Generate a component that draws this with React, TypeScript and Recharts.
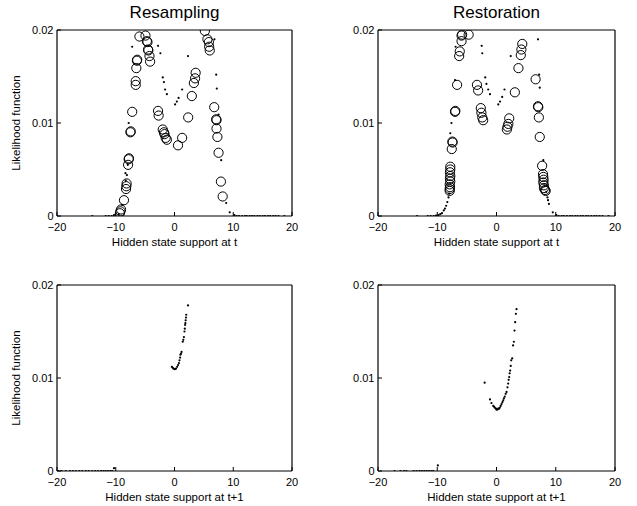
import { ScatterChart, Scatter, XAxis, YAxis } from "recharts";

// values: [hidden state, likelihood]
const xTicks = [-20, -10, 0, 10, 20];
const yTicks = [0, 0.01, 0.02];
const titles = ["Resampling", "Restoration"];
const xLabels = ["Hidden state support at t", "Hidden state support at t+1"];
const yLabel = "Likelihood function";

const resampleCircles = [
  [-5.97, 0.0193], [-4.94, 0.0194], [-4.7, 0.0188], [-4.6, 0.0187], [-4.5, 0.0179], [-4.45, 0.0178],
  [-4.26, 0.0172], [-4.15, 0.0166], [-6.4, 0.0167], [-6.35, 0.0168], [-6.5, 0.0159], [-6.6, 0.0145],
  [-6.6, 0.0141], [-7.2, 0.0112], [-7.5, 0.009], [-7.45, 0.0091], [-7.8, 0.0061], [-7.75, 0.0062],
  [-7.9, 0.0055], [-8.15, 0.0035], [-8.2, 0.0032], [-8.25, 0.0029], [-8.6, 0.0017], [-9.1, 0.0007],
  [-9.2, 0.0005], [-9.3, 0.0003], [-2.8, 0.0113], [-2.7, 0.0108], [-2.0, 0.0093], [-1.8, 0.009],
  [-1.7, 0.0088], [-1.5, 0.0084], [-1.3, 0.0082], [0.6, 0.0076], [1.3, 0.0084], [2.33, 0.0106],
  [2.95, 0.0129], [3.3, 0.0143], [3.5, 0.0148], [3.6, 0.0154], [5.17, 0.0199], [5.6, 0.019],
  [5.85, 0.0187], [5.9, 0.0182], [6.0, 0.0178], [6.76, 0.0117], [7.1, 0.0104], [7.15, 0.0103],
  [7.15, 0.0094], [7.3, 0.0085], [7.5, 0.0068], [7.9, 0.0037], [8.2, 0.0021],
];

const resampleDots = [
  [-7.2, 0.0182], [-7.8, 0.01], [-7.95, 0.0055], [-8.1, 0.0044], [-8.35, 0.0046], [-8.3, 0.0038],
  [-8.9, 0.0012], [-9.5, 0.0002], [-2.8, 0.0183], [-2.4, 0.0175], [-2.0, 0.0149], [-1.8, 0.0144],
  [-1.6, 0.0136], [-1.3, 0.0131], [0.1, 0.012], [0.4, 0.0123], [0.7, 0.0127], [1.3, 0.0136],
  [2.3, 0.0172], [6.8, 0.019], [7.1, 0.0152], [7.2, 0.0137], [7.5, 0.0109], [7.95, 0.006],
  [8.8, 0.0014], [9.4, 0.0004],
  [-14.0, 0], [-11.7, 0], [-11.2, 0], [-10.7, 0], [-10.3, 0.0001],
  [10.2, 0.0001], [10.6, 0], [11.0, 0], [11.5, 0], [12.0, 0], [12.3, 0], [12.8, 0], [13.2, 0],
  [13.6, 0], [14.1, 0], [14.5, 0], [15.0, 0], [15.4, 0], [15.9, 0], [16.3, 0], [16.8, 0],
  [17.2, 0], [17.7, 0], [18.7, 0],
];

const restoreCircles = [
  [-5.9, 0.0194], [-5.8, 0.0195], [-4.7, 0.0195], [-5.9, 0.0188], [-6.2, 0.0177], [-6.3, 0.0172],
  [-6.65, 0.0141], [-7.0, 0.0112], [-6.95, 0.0113], [-7.4, 0.0079], [-7.45, 0.008], [-7.55, 0.0072],
  [-7.8, 0.0053], [-7.8, 0.005], [-7.85, 0.0047], [-7.8, 0.0043], [-7.85, 0.004], [-7.8, 0.0037],
  [-7.9, 0.0034], [-7.85, 0.0031], [-7.9, 0.0029], [-7.9, 0.0027], [-3.3, 0.0141], [-3.1, 0.0135],
  [-2.65, 0.0116], [-2.55, 0.0111], [-2.4, 0.0106], [-2.25, 0.0103], [2.15, 0.0105], [2.0, 0.0099],
  [1.85, 0.0096], [1.75, 0.0093], [3.1, 0.0133], [3.7, 0.0159], [4.1, 0.0173], [4.2, 0.0179],
  [4.35, 0.0185], [6.6, 0.0147], [7.0, 0.0118], [7.05, 0.0117], [7.15, 0.0106], [7.3, 0.0085],
  [7.7, 0.0054], [7.85, 0.0045], [7.9, 0.0042], [7.95, 0.0039], [7.9, 0.0036], [8.0, 0.0033],
  [8.0, 0.003], [8.2, 0.0028], [8.3, 0.0027],
];

const restoreDots = [
  [7.0, 0.019], [7.2, 0.0152], [7.3, 0.0138], [-2.5, 0.0183], [-2.4, 0.0175], [-1.9, 0.0149],
  [-1.7, 0.0142], [-1.4, 0.0136], [-1.1, 0.0131], [0.3, 0.012], [0.6, 0.0123], [0.96, 0.0128],
  [1.35, 0.0136], [2.4, 0.0172], [-6.9, 0.0182], [-7.0, 0.0146], [-7.6, 0.01], [-7.8, 0.0089],
  [-8.0, 0.0024], [-8.1, 0.002], [-8.3, 0.0015], [-8.5, 0.0011], [-8.7, 0.0008], [-8.9, 0.0006],
  [-9.2, 0.0003], [-9.5, 0.0002], [-9.8, 0.0001], [-10.2, 0.00005], [-10.6, 0], [-11.1, 0],
  [-11.6, 0], [-13.4, 0],
  [7.9, 0.006], [8.4, 0.0026], [8.6, 0.002], [8.7, 0.0017], [8.85, 0.0013], [9.5, 0.0004],
  [10.1, 0.0001], [10.5, 0], [11.0, 0], [11.4, 0], [11.9, 0], [12.4, 0], [12.8, 0], [13.3, 0],
  [13.7, 0], [14.2, 0], [14.6, 0], [15.1, 0], [15.5, 0], [16.0, 0], [16.5, 0], [16.9, 0],
  [17.4, 0], [17.9, 0], [18.9, 0],
];

const nextResampleDots = [
  [-0.45, 0.0112], [-0.3, 0.0111], [-0.17, 0.011], [0.05, 0.01095], [0.25, 0.011], [0.45, 0.0112],
  [0.6, 0.0114], [0.75, 0.0116], [0.85, 0.0119], [0.95, 0.0122], [1.0, 0.0125], [1.1, 0.0126],
  [1.2, 0.0128], [1.4, 0.0139], [1.5, 0.0141], [1.6, 0.0144], [1.7, 0.015], [1.75, 0.0153],
  [1.8, 0.0157], [1.85, 0.0159], [1.9, 0.0162], [1.95, 0.0165], [2.0, 0.0168], [2.3, 0.0178],
  [-19.8, 0], [-19.2, 0], [-18.5, 0], [-17.8, 0], [-17.3, 0], [-16.8, 0], [-16.2, 0], [-15.7, 0],
  [-15.1, 0], [-14.6, 0], [-14.0, 0], [-13.5, 0], [-13.0, 0], [-12.5, 0], [-12.1, 0], [-11.7, 0],
  [-11.3, 0], [-10.9, 0], [-10.6, 0], [-10.3, 0.0003],
];

const nextRestoreDots = [
  [-2.0, 0.0095], [-1.1, 0.0077], [-0.85, 0.0073], [-0.55, 0.007], [-0.4, 0.0069], [-0.28, 0.0068],
  [-0.1, 0.0067], [0.0, 0.0066], [0.15, 0.0066], [0.28, 0.0067], [0.42, 0.0067], [0.56, 0.0068],
  [0.7, 0.007], [0.85, 0.0072], [1.0, 0.0074], [1.13, 0.0076], [1.25, 0.0078], [1.4, 0.008],
  [1.55, 0.0083], [1.7, 0.0085], [1.85, 0.009], [1.97, 0.0094], [2.05, 0.0098], [2.14, 0.0101],
  [2.22, 0.0105], [2.3, 0.0108], [2.4, 0.0113], [2.48, 0.0119], [2.65, 0.0121], [2.8, 0.0135],
  [2.93, 0.0139], [3.04, 0.0151], [3.15, 0.016], [3.27, 0.0169], [3.38, 0.0174],
  [-17.2, 0], [-16.2, 0], [-15.6, 0], [-15.2, 0], [-14.0, 0], [-13.5, 0], [-13.0, 0], [-12.6, 0],
  [-12.2, 0], [-11.8, 0], [-11.4, 0], [-11.0, 0], [-10.7, 0], [-9.9, 0.0006],
];

const font = "'Liberation Sans', Arial, Helvetica, sans-serif";

const toPoints = (arr: number[][]) => arr.map(([x, y]) => ({ x, y }));

const fmtX = (v: number) => (v < 0 ? "\u2212" + Math.abs(v) : String(v));
const fmtY = (v: number) => (v === 0 ? "0" : v.toFixed(2));

const Ring = (p: any) => (
  <circle cx={p.cx} cy={p.cy} r={4.6} fill="none" stroke="#000" strokeWidth={1} />
);
const Dot = (p: any) => <circle cx={p.cx} cy={p.cy} r={1.1} fill="#000" />;

interface PanelProps {
  left: number;
  top: number;
  plotWidth: number;
  title?: string;
  xLabel: string;
  showYLabel: boolean;
  circles?: number[][];
  dots: number[][];
}

function Panel({ left, top, plotWidth, title, xLabel, showYLabel, circles, dots }: PanelProps) {
  const tickStyle = { fontSize: 11, fill: "#000", fontFamily: font };
  const axisLine = { stroke: "#000", strokeWidth: 1.2 };
  return (
    <div style={{ position: "absolute", left, top, width: 57 + plotWidth + 10, height: 251 }}>
      {title && (
        <div
          style={{
            position: "absolute",
            left: 57,
            width: plotWidth,
            top: 3,
            textAlign: "center",
            fontFamily: font,
            fontSize: 17,
            lineHeight: "20px",
          }}
        >
          {title}
        </div>
      )}
      <ScatterChart
        width={57 + plotWidth + 10}
        height={251}
        margin={{ top: 30, right: 10, bottom: 5, left: 0 }}
      >
        <XAxis
          type="number"
          dataKey="x"
          domain={[-20, 20]}
          ticks={xTicks}
          tickFormatter={fmtX}
          allowDataOverflow
          height={30}
          tickSize={-4}
          tickMargin={11}
          axisLine={axisLine}
          tickLine={{ stroke: "#000" }}
          tick={tickStyle}
          interval={0}
          label={{ value: xLabel, position: "insideBottom", offset: 0, style: { fontSize: 11.5, fill: "#000", fontFamily: font } }}
        />
        <XAxis
          xAxisId="top"
          orientation="top"
          mirror
          type="number"
          domain={[-20, 20]}
          ticks={xTicks}
          tickSize={4}
          tick={false}
          axisLine={axisLine}
          tickLine={{ stroke: "#000" }}
        />
        <YAxis
          type="number"
          dataKey="y"
          domain={[0, 0.02]}
          ticks={yTicks}
          tickFormatter={fmtY}
          allowDataOverflow
          width={57}
          tickSize={-4}
          tickMargin={7.5}
          axisLine={axisLine}
          tickLine={{ stroke: "#000" }}
          tick={tickStyle}
          interval={0}
          label={
            showYLabel
              ? {
                  value: yLabel,
                  angle: -90,
                  position: "insideLeft",
                  offset: 16,
                  style: { textAnchor: "middle", fontSize: 11.5, fill: "#000", fontFamily: font },
                }
              : undefined
          }
        />
        <YAxis
          yAxisId="right"
          orientation="right"
          mirror
          type="number"
          domain={[0, 0.02]}
          ticks={yTicks}
          tickSize={4}
          tick={false}
          axisLine={axisLine}
          tickLine={{ stroke: "#000" }}
        />
        <Scatter data={toPoints(dots)} shape={Dot} isAnimationActive={false} />
        {circles && <Scatter data={toPoints(circles)} shape={Ring} isAnimationActive={false} />}
      </ScatterChart>
    </div>
  );
}

export default function App() {
  return (
    <div style={{ position: "absolute", left: 0, top: 0, width: 637, height: 506, background: "#fff" }}>
      <Panel left={0} top={0} plotWidth={235} title={titles[0]} xLabel={xLabels[0]} showYLabel circles={resampleCircles} dots={resampleDots} />
      <Panel left={321} top={0} plotWidth={237} title={titles[1]} xLabel={xLabels[0]} showYLabel={false} circles={restoreCircles} dots={restoreDots} />
      <Panel left={0} top={255} plotWidth={235} xLabel={xLabels[1]} showYLabel dots={nextResampleDots} />
      <Panel left={321} top={255} plotWidth={237} xLabel={xLabels[1]} showYLabel={false} dots={nextRestoreDots} />
    </div>
  );
}
